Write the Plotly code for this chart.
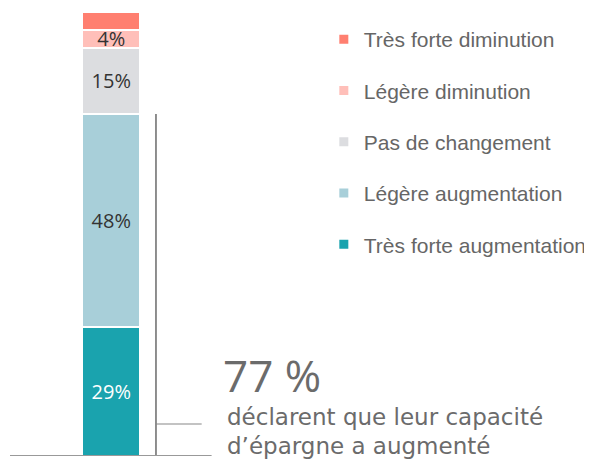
import plotly.graph_objects as go

categories = ["Très forte augmentation", "Légère augmentation", "Pas de changement",
              "Légère diminution", "Très forte diminution"]
values = [29, 48, 15, 4, 4]
labels = ["29%", "48%", "15%", "4%", ""]
colors = ["#1AA3AE", "#A8CFD9", "#DCDDE0", "#FFBFB9", "#FF7F70"]
label_colors = ["#FFFFFF", "#333333", "#333333", "#333333", "#333333"]

headline = "77 %"
subtitle_1 = "déclarent que leur capacité"
subtitle_2 = "d’épargne a augmenté"

# page body has an 8px margin: figure is drawn 8px right/down of the window origin
W, H = 584, 456
PT, PB = 4, 448          # plot area top / bottom (figure px)
PH = PB - PT


def px_x(x):
    return x / W


def px_y(y):
    return (PB - y) / PH


fig = go.Figure()

for cat, v, lab, col, lc in zip(categories, values, labels, colors, label_colors):
    fig.add_trace(go.Bar(
        x=[0], y=[v], width=0.5, name=cat, showlegend=False,
        marker=dict(color=col, line=dict(color="white", width=2)),
        text=[lab], textposition="inside", insidetextanchor="middle",
        textangle=0, constraintext="none",
        textfont=dict(family="Open Sans", size=20, color=lc),
        hoverinfo="skip",
    ))

# legend entries (top to bottom)
for i, (cat, col) in enumerate(reversed(list(zip(categories, colors)))):
    fig.add_trace(go.Scatter(
        x=[None], y=[None], mode="markers", name=cat, legendgroup=f"g{i}",
        marker=dict(symbol="square", size=9, color=col),
    ))

px_per_unit = 116.0
center_px = 104.0
fig.update_layout(
    width=W, height=H,
    margin=dict(l=0, r=0, t=PT, b=H - PB),
    paper_bgcolor="white", plot_bgcolor="white",
    barmode="stack",
    xaxis=dict(range=[-center_px / px_per_unit, (W - center_px) / px_per_unit],
               visible=False, fixedrange=True),
    yaxis=dict(range=[0, 100], visible=False, fixedrange=True),
    legend=dict(x=px_x(318), y=px_y(11), xanchor="left", yanchor="top",
                traceorder="grouped", tracegroupgap=21,
                font=dict(family="Liberation Sans", size=21, color="#666666"),
                bgcolor="rgba(0,0,0,0)"),
    showlegend=True,
)

fig.add_shape(type="line", xref="paper", yref="y", x0=px_x(2), x1=px_x(205), y0=0, y1=0,
              line=dict(color="#777777", width=1.5))
fig.add_shape(type="line", xref="paper", yref="y", x0=px_x(149), x1=px_x(149), y0=0.2, y1=77,
              line=dict(color="#444444", width=1.2))
fig.add_shape(type="line", xref="paper", yref="paper", x0=px_x(149), x1=px_x(195),
              y0=px_y(416), y1=px_y(416),
              line=dict(color="#888888", width=1.2))

fig.add_annotation(text=headline, xref="paper", yref="paper", x=px_x(214), y=px_y(367),
                   xanchor="left", yanchor="middle", showarrow=False,
                   font=dict(family="Open Sans", size=44, color="#6B6B6B"))
fig.add_annotation(text=subtitle_1, xref="paper", yref="paper", x=px_x(218), y=px_y(409),
                   xanchor="left", yanchor="middle", showarrow=False,
                   font=dict(family="DejaVu Sans", size=23, color="#6B6B6B"))
fig.add_annotation(text=subtitle_2, xref="paper", yref="paper", x=px_x(218), y=px_y(438),
                   xanchor="left", yanchor="middle", showarrow=False,
                   font=dict(family="DejaVu Sans", size=23, color="#6B6B6B"))

fig.write_html("out.html")
